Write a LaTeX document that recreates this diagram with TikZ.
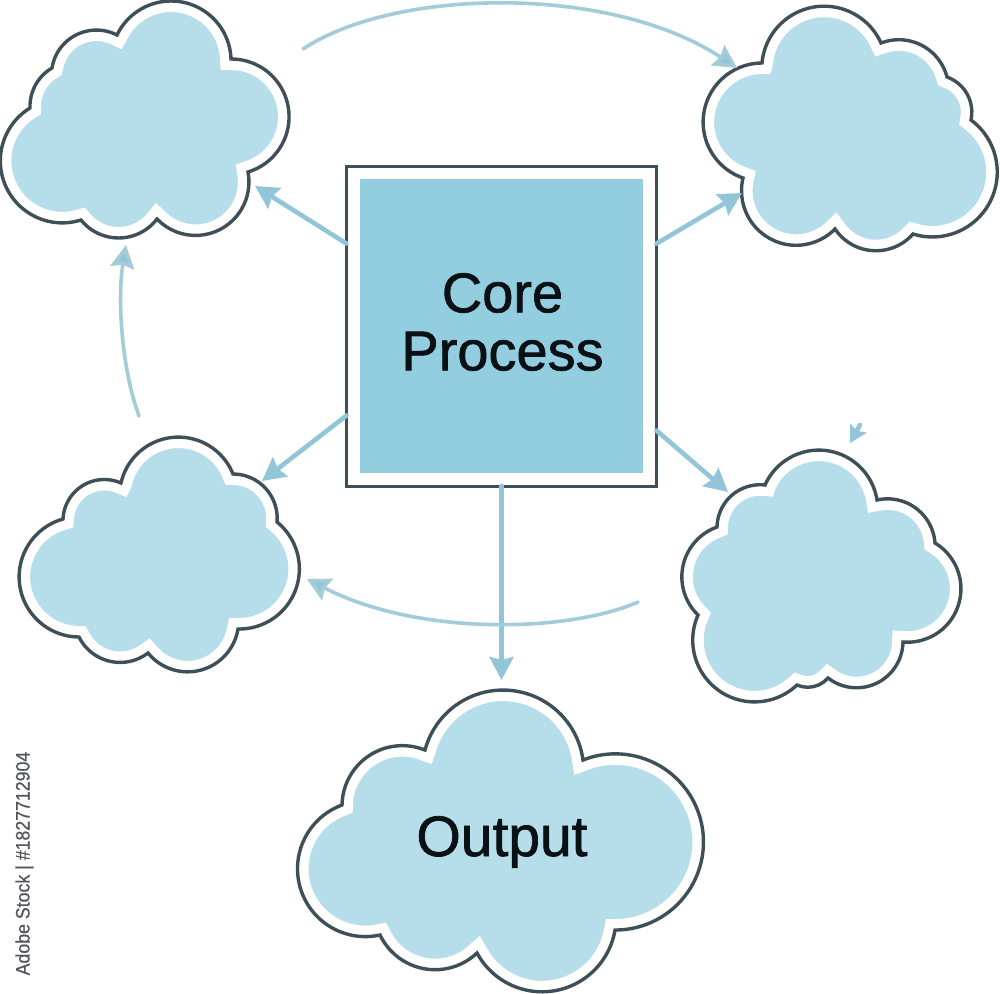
\documentclass[tikz,border=0pt]{standalone}
\usepackage{fontspec}
\setmainfont{Liberation Sans}
\newfontfamily\labelfont[FakeBold=1.2]{Liberation Sans}
\newfontfamily\sidefont[FakeBold=0.6]{Liberation Sans}
\usetikzlibrary{arrows.meta}
\definecolor{cloudblue}{HTML}{B5DDEA}
\definecolor{coreblue}{HTML}{93CDE0}
\definecolor{outlinedark}{HTML}{3F4F58}
\definecolor{arrowblue}{HTML}{93C5D8}
\definecolor{arcblue}{HTML}{A3CBD8}
\definecolor{sidegray}{HTML}{50565B}
\definecolor{inkdark}{HTML}{0A1014}
% builds a closed chain of circular lobes: start point, then peak/cusp pairs
\newcommand\buildcloud[4]{%
  \gdef\cldlx{#2}\gdef\cldly{#3}\gdef\cldpath{(#2,#3)}%
  \foreach \cpx/\cpy/\cbx/\cby in {#4}{%
    \pgfmathsetmacro\cmx{(\cldlx+\cbx)/2}%
    \pgfmathsetmacro\cmy{(\cldly+\cby)/2}%
    \pgfmathsetmacro\ccc{veclen(\cbx-\cldlx,\cby-\cldly)/2}%
    \pgfmathsetmacro\cux{(\cbx-\cldlx)/(2*\ccc)}%
    \pgfmathsetmacro\cuy{(\cby-\cldly)/(2*\ccc)}%
    % normal towards the peak
    \pgfmathsetmacro\cnx{-\cuy}%
    \pgfmathsetmacro\cny{\cux}%
    \pgfmathsetmacro\chh{(\cpx-\cmx)*\cnx+(\cpy-\cmy)*\cny}%
    \pgfmathsetmacro\csg{\chh<0 ? -1 : 1}%
    \pgfmathsetmacro\cnx{\cnx*\csg}%
    \pgfmathsetmacro\cny{\cny*\csg}%
    \pgfmathsetmacro\chh{abs(\chh)}%
    \pgfmathsetmacro\crr{((\ccc/10)*(\ccc/10)+(\chh/10)*(\chh/10))/(2*\chh/10)*10}%
    \pgfmathsetmacro\cox{\cmx+(\chh-\crr)*\cnx}%
    \pgfmathsetmacro\coy{\cmy+(\chh-\crr)*\cny}%
    \pgfmathsetmacro\cst{atan2(\cldly-\coy,\cldlx-\cox)}%
    \pgfmathsetmacro\cth{2*atan(\chh/\ccc)}%
    % sweep sign: from -u through n to +u
    \pgfmathsetmacro\cdr{(\cux*\cny-\cuy*\cnx)>0 ? -1 : 1}%
    \pgfmathsetmacro\cdl{\cdr*2*\cth/3}%
    \pgfmathsetmacro\cll{4/3*tan(abs(\cdl)/4)*\crr*\cdr}%
    \foreach \ci in {1,2,3}{%
      \pgfmathsetmacro\caa{\cst+(\ci-1)*\cdl}%
      \pgfmathsetmacro\cab{\cst+\ci*\cdl}%
      \pgfmathsetmacro\cax{\cox+\crr*cos(\caa)-\cll*sin(\caa)}%
      \pgfmathsetmacro\cay{\coy+\crr*sin(\caa)+\cll*cos(\caa)}%
      \pgfmathsetmacro\cex{\cox+\crr*cos(\cab)}%
      \pgfmathsetmacro\cey{\coy+\crr*sin(\cab)}%
      \pgfmathsetmacro\cdx{\cex+\cll*sin(\cab)}%
      \pgfmathsetmacro\cdy{\cey-\cll*cos(\cab)}%
      \xdef\cldpath{\cldpath .. controls (\cax,\cay) and (\cdx,\cdy) .. (\cex,\cey)}%
    }%
    \xdef\cldlx{\cbx}\xdef\cldly{\cby}%
  }%
  \global\let#1\cldpath
}
\newcommand\drawcloud[1]{%
  \fill[cloudblue] #1 -- cycle;
  \begin{scope}
    \clip #1 -- cycle;
    \draw[white,line width=22pt,line join=miter,miter limit=10] #1 -- cycle;
  \end{scope}
  \draw[cloudline] #1 -- cycle;
}
\tikzset{
  cloudline/.style={draw=outlinedark,line width=3.4pt,line join=miter,miter limit=4},
  conn/.style={draw=arrowblue,line width=4.6pt,line cap=round,
    -{Stealth[length=23pt,width=24pt,inset=3pt,fill=arrowblue]}},
  arcconn/.style={conn,draw=arcblue,line width=3.6pt},
  coreframe/.style={draw=outlinedark,fill=white,line width=3pt,outer sep=0pt,
    minimum width=310pt,minimum height=320pt,inner sep=0pt},
  corefill/.style={fill=coreblue,outer sep=0pt,minimum width=283pt,minimum height=294pt,inner sep=0pt},
  corelabel/.style={align=center,text=inkdark,inner sep=0pt,font=\labelfont\fontsize{56}{58}\selectfont},
  outlabel/.style={text=inkdark,font=\labelfont\fontsize{57}{60}\selectfont,inner sep=0pt},
  sidelabel/.style={text=sidegray,font=\sidefont\fontsize{19.5}{22}\selectfont,inner sep=0pt,rotate=90}
}
\begin{document}
\begin{tikzpicture}[x=1pt,y=-1pt]
\useasboundingbox (0,0) rectangle (1000,993);
\fill[white] (0,0) rectangle (1000,993);
\buildcloud{\cloudA}{117}{35}{182/2/231/59, 289/112/248/172, 221/229/157/219, 118/238/81/220, 7/189/30/108, 36/84/52/68, 72/37/117/35}
\buildcloud{\cloudB}{762}{63}{826/5/881/43, 925/47/947/77, 966/92/971/120, 992/198/913/234, 878/251/835/229, 767/237/743/178, 703/118/762/63}
\buildcloud{\cloudC}{121}{483}{177/437/233/474, 268/491/277/522, 301/575/238/629, 205/669/148/653, 113/662/79/637, 19/580/63/519, 82/486/121/483}
\buildcloud{\cloudE}{765}{485}{822/450/877/500, 917/509/935/543, 961/597/903/642, 875/684/828/678, 812/687/797/685, 711/685/698/615, 681/575/717/527, 731/496/765/485}
\buildcloud{\cloudO}{425}{750}{505/690/583/760, 702/826/615/930, 553/991/477/953, 431/970/380/935, 300/887/342/805, 367/757/425/750}
\drawcloud{\cloudA}
\drawcloud{\cloudB}
\drawcloud{\cloudC}
\drawcloud{\cloudE}
\drawcloud{\cloudO}
\node[coreframe] (core) at (501.5,326) {};
\node[corefill] (coreinner) at (501.5,326) {};
\node[corelabel] (corelabel) at (502.5,322) {Core\\Process};
\node[outlabel,anchor=base] (output) at (502,856) {Output};
\node[sidelabel,anchor=base] (side) at (29.5,863.5) {\scalebox{0.91}[1]{Adobe Stock | \#1827712904}};
\coordinate (tipA) at (255,186);
\coordinate (tipB) at (742,193);
\coordinate (tipC) at (262,481);
\coordinate (tipE) at (728,492);
\coordinate (tipO) at (501.5,680);
\coordinate (arcAstart) at (303,49);
\coordinate (arcBtip) at (737,68);
\coordinate (arcEstart) at (638,602);
\coordinate (arcCtip) at (307,579);
\coordinate (arcCstart) at (139,416);
\coordinate (arcAtip) at (126,245);
\coordinate (strayA) at (860,425);
\coordinate (strayB) at (850,443);
\draw[conn] (core.152) -- (tipA);
\draw[conn] (core.28.4) -- (tipB);
\draw[conn] (core.210.3) -- (tipC);
\draw[conn] (core.326.7) -- (tipE);
\draw[conn] (core.south) -- (tipO);
\draw[arcconn] (arcAstart) .. controls (395,-12) and (610,-16) .. (arcBtip);
\draw[arcconn] (arcEstart) .. controls (570,632) and (420,637) .. (arcCtip);
\draw[arcconn] (arcCstart) .. controls (122,370) and (117,300) .. (arcAtip);
\draw[conn,-{Stealth[length=17pt,width=19pt,inset=3pt,fill=arrowblue]}] (strayA) -- (strayB);
\end{tikzpicture}
\end{document}
